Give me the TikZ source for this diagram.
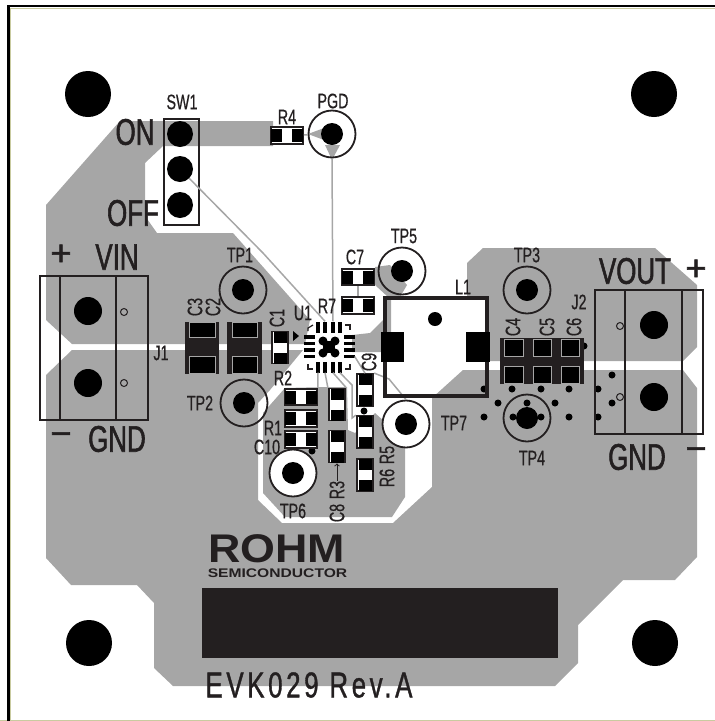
\documentclass[tikz,border=0pt]{standalone}
\usepackage{fontspec}
\newfontfamily\silkfont[FakeStretch=0.68,FakeBold=0.6]{Liberation Sans}
\newfontfamily\bigsilkfont[FakeStretch=0.7,FakeBold=1.5]{Liberation Sans}
\newfontfamily\signfont[FakeBold=1.5]{Liberation Sans}
\newfontfamily\evkfont[FakeStretch=0.72,LetterSpace=10,FakeBold=1]{Liberation Sans}
\newfontfamily\logofont[FakeStretch=1.12]{Liberation Sans Bold}
\newfontfamily\semifont[FakeStretch=1.25]{Liberation Sans Bold}
\definecolor{copper}{HTML}{A6A6A6}
\definecolor{ink}{HTML}{231F20}
\definecolor{edgeline}{HTML}{C9CBA0}
\begin{document}
\begin{tikzpicture}[x=1pt,y=-1pt,
        lbl/.style={text=ink,inner sep=0pt,font=\silkfont\fontsize{21}{21}\selectfont},
        biglbl/.style={lbl,font=\bigsilkfont\fontsize{37}{37}\selectfont},
        signlbl/.style={lbl,font=\signfont\fontsize{36}{36}\selectfont},
        hole/.style={circle,fill=black,inner sep=0pt,minimum size=22pt},
        bighole/.style={hole,minimum size=28pt},
        mount/.style={hole,minimum size=46pt},
        via/.style={hole,minimum size=7pt},
        ring/.style={circle,draw=ink,line width=1.8pt,inner sep=0pt,minimum size=47pt},
        pinmark/.style={circle,draw=ink,line width=1pt,inner sep=0pt,minimum size=7pt},
        frame/.style={draw=ink,line width=2pt},
        pad/.style={fill=black,inner sep=0pt,minimum width=11pt,minimum height=13pt},
        tallpad/.style={pad,minimum width=13pt,minimum height=11pt},
        capbody/.style={fill=ink,inner sep=0pt},
        cappad/.style={fill=black,draw=copper,line width=0.7pt,inner sep=0pt},
        hpin/.style={fill=black,inner sep=0pt,minimum width=11pt,minimum height=3.4pt},
        vpin/.style={fill=black,inner sep=0pt,minimum width=3.4pt,minimum height=11pt},
        trace/.style={draw=copper,line width=1.5pt},
        chiph/.pic={
            \node[draw=ink,line width=1.8pt,fill=white,inner sep=0pt,minimum width=32pt,minimum height=16.5pt] (-body) at (0,0) {};
            \node[pad] (-a) at (-10.5,0) {};
            \node[pad] (-b) at (10.5,0) {};
        },
        chipv/.pic={
            \node[draw=ink,line width=1.8pt,fill=white,inner sep=0pt,minimum width=16.5pt,minimum height=32pt] (-body) at (0,0) {};
            \node[tallpad] (-a) at (0,-10.5) {};
            \node[tallpad] (-b) at (0,10.5) {};
        }]
    \useasboundingbox (0,0) rectangle (715,721);
    % sheet edge
    \draw[edgeline,line width=1.5pt] (10.5,721) -- (10.5,8.5) -- (715,8.5);
    \draw[edgeline,line width=1pt] (0,720.5) -- (715,720.5);
    \draw[black,line width=2.5pt] (8.5,721) -- (8.5,6) -- (715,6);

    % copper areas
    \fill[copper] (120,121) -- (46,205) -- (46,320) -- (72,344) -- (305,344) -- (310,320) -- (233,233) -- (157,233)
        -- (145,216) -- (145,163) -- (163,146) -- (273,146) -- (273,121) -- cycle;
    \fill[copper] (46,375) -- (72,350) -- (303,350) -- (270,390) -- (258,403) -- (258,500) -- (282,523) -- (393,523)
        -- (432,487) -- (432,398) -- (463,370) -- (683,370) -- (697,388) -- (697,557) -- (675,580) -- (623,580)
        -- (578,625) -- (578,663) -- (555,686) -- (173,686) -- (154,668) -- (154,603) -- (137,585) -- (71,585)
        -- (46,558) -- cycle;
    \fill[copper] (467,263) -- (483,248) -- (655,248) -- (697,285) -- (697,347) -- (683,361) -- (487,361)
        -- (487,298) -- (467,298) -- cycle;
    % island under the small parts
    \fill[copper] (285,388) -- (263,413) -- (263,493) -- (285,517) -- (392,517) -- (405,497) -- (405,447)
        -- (385,422) -- (375,413) -- (355,433) -- (348,430) -- (347,387) -- (327,387) -- cycle;
    % switch node trace from U1 to L1 and the TP5 wedge
    \fill[copper] (352,335) -- (370,333) -- (383,320) -- (384,298) -- (391,298) -- (391,352) -- (352,352) -- cycle;
    \fill[copper] (390,265) -- (375,267) -- (375,285) -- (388,297) -- (400,297) -- (407,285) -- cycle;
    \fill[copper] (308,134) -- (332,125) -- (332,143) -- cycle;
    \fill[copper] (325,145) -- (340,145) -- (332,160) -- cycle;

    % mounting holes
    \node[mount] (m1) at (88,94) {};
    \node[mount] (m2) at (654,94) {};
    \node[mount] (m3) at (89,643) {};
    \node[mount] (m4) at (655,643) {};

    % U1
    \node[fill=white,inner sep=0pt,minimum size=28pt] (u1) at (329,347) {};
    \node[vpin] (ut1) at (318,327) {}; \node[vpin] (ut2) at (325,327) {}; \node[vpin] (ut3) at (333,327) {}; \node[vpin] (ut4) at (340,327) {};
    \node[vpin] (ub1) at (318,367) {}; \node[vpin] (ub2) at (325,367) {}; \node[vpin] (ub3) at (333,367) {}; \node[vpin] (ub4) at (340,367) {};
    \node[hpin] (ul1) at (309,337) {}; \node[hpin] (ul2) at (309,343.5) {}; \node[hpin] (ul3) at (309,350) {}; \node[hpin] (ul4) at (309,356.5) {};
    \node[hpin] (ur1) at (349,337) {}; \node[hpin] (ur2) at (349,343.5) {}; \node[hpin] (ur3) at (349,350) {}; \node[hpin] (ur4) at (349,356.5) {};
    \fill[black] (u1) ++(-6,-6) circle (4.5) ++(12,0) circle (4.5) ++(0,12) circle (4.5) ++(-12,0) circle (4.5);
    \fill[black] (u1) ++(-6,-6) rectangle ++(12,12);
    \draw[ink,line width=1.2pt] (308,331) -- (308,328) -- (313,325);
    \draw[ink,line width=1.2pt] (345,325) -- (350,325) -- (350,330);
    \draw[ink,line width=1.2pt] (308,364) -- (308,369) -- (313,369);
    \draw[ink,line width=1.2pt] (345,369) -- (350,369) -- (350,364);
    \fill[black] (293,331) -- (299,336) -- (293,341) -- cycle;

    % switch and PGD
    \node[hole,minimum size=26pt] (sw1a) at (180,134) {};
    \node[hole,minimum size=26pt] (sw1b) at (180,169) {};
    \node[hole,minimum size=26pt] (sw1c) at (180,205) {};
    \node[frame,fill=none,inner sep=0pt,minimum width=35pt,minimum height=106pt] (sw1) at (181,171.5) {};
    \node[ring] (pgdr) at (332,134) {};
    \node[hole] (pgd) at (332,134) {};
    \draw[trace] (pgdr.south) -- (ut3.north);
    \draw[trace] (sw1b) -- (263,253) -- (ut2.north);

    % test points
    \node[ring] (tp1r) at (243,290) {}; \node[hole] (tp1) at (243,290) {};
    \node[ring] (tp2r) at (244,403) {}; \node[hole] (tp2) at (244,403) {};
    \node[ring] (tp3r) at (527,290) {}; \node[hole] (tp3) at (527,290) {};
    \node[ring] (tp4r) at (527,418) {}; \node[hole] (tp4) at (527,418) {};
    \node[ring] (tp5r) at (402,271) {}; \node[hole] (tp5) at (402,271) {};
    \node[ring,fill=white] (tp6r) at (293,473) {}; \node[hole] (tp6) at (293,473) {};
    \node[ring,fill=white] (tp7r) at (406,424) {}; \node[hole] (tp7) at (406,424) {};

    % vias
    \node[via] (v1) at (484,389) {}; \node[via] (v2) at (512,389) {}; \node[via] (v3) at (541,389) {}; \node[via] (v4) at (569,389) {}; \node[via] (v5) at (598,389) {};
    \node[via] (v6) at (498,403) {}; \node[via] (v7) at (527,403) {}; \node[via] (v8) at (555,403) {};
    \node[via] (v9) at (484,417) {}; \node[via] (v10) at (513,417) {}; \node[via] (v11) at (541,417) {}; \node[via] (v12) at (569,417) {}; \node[via] (v13) at (598,417) {};
    \node[via] (v14) at (612,375) {}; \node[via] (v15) at (612,403) {}; \node[via] (v16) at (584,346) {};
    \node[via] (v17) at (364,411) {}; \node[via] (v18) at (312,451) {};

    % chips
    \pic (r4) at (287,135.5) {chiph};
    \pic (c7) at (358,277) {chiph};
    \pic (r7) at (358,305.5) {chiph};
    \pic (r2) at (301,397) {chiph};
    \pic (r1) at (301,418.5) {chiph};
    \pic (c10) at (301,439.5) {chiph};
    \pic (c1) at (280,347.5) {chipv};
    \pic (c8) at (337,404.5) {chipv};
    \pic (r3) at (337,446.5) {chipv};
    \pic (c9) at (365,390) {chipv};
    \pic (r5) at (365,432) {chipv};
    \pic (r6) at (365,475) {chipv};
    \draw[trace] (c7-body) -- (r7-body);
    \draw[trace] (r4-body) -- (pgdr);
    \draw[trace] (ub1.south) -- (r2-body.north east);
    \draw[trace] (ub2.south) -- (c8-body.north west);
    \draw[trace] (ub3.south) -- (c8-body.north east);
    \draw[trace] (ub4.south) -- (352,385) -- (352,418) -- (r5-body.north west);
    \draw[trace] (ur4.east) -- (c9-body.north);
    \draw[trace] (c9-body.north east) -- (389,379) -- (tp7r.north);
    \draw[trace] (c8-body.south) -- (r3-body.north);

    % input caps
    \node[capbody,minimum width=34pt,minimum height=52pt] (c3) at (202,348) {};
    \node[capbody,minimum width=35pt,minimum height=52pt] (c2) at (244.5,348) {};
    \node[cappad,minimum width=26pt,minimum height=15pt] (c3a) at (202,329.5) {};
    \node[cappad,minimum width=26pt,minimum height=17pt] (c3b) at (202,364.5) {};
    \node[cappad,minimum width=25pt,minimum height=15pt] (c2a) at (244.5,329.5) {};
    \node[cappad,minimum width=25pt,minimum height=17pt] (c2b) at (244.5,364.5) {};
    % output caps
    \node[capbody,minimum width=84pt,minimum height=46pt] (c456) at (542,361) {};
    \node[cappad,minimum width=19pt,minimum height=17pt] (c4a) at (513.5,347.5) {};
    \node[cappad,minimum width=18pt,minimum height=17pt] (c5a) at (542,347.5) {};
    \node[cappad,minimum width=18pt,minimum height=17pt] (c6a) at (570,347.5) {};
    \node[cappad,minimum width=19pt,minimum height=17pt] (c4b) at (513.5,374.5) {};
    \node[cappad,minimum width=18pt,minimum height=17pt] (c5b) at (542,374.5) {};
    \node[cappad,minimum width=18pt,minimum height=17pt] (c6b) at (570,374.5) {};

    % L1
    \node[draw=ink,line width=3.5pt,inner sep=0pt,minimum width=102pt,minimum height=98pt] (l1) at (436,347) {};
    \node[fill=black,inner sep=0pt,minimum width=23pt,minimum height=30pt] (l1a) at (392.5,347) {};
    \node[fill=black,inner sep=0pt,minimum width=24pt,minimum height=30pt] (l1b) at (478,347) {};
    \node[via,minimum size=14pt] (l1dot) at (435,319) {};

    % connectors
    \node[draw=ink,line width=2pt,inner sep=0pt,minimum width=108pt,minimum height=144pt] (j1) at (94,348) {};
    \draw[ink,line width=2pt] (j1.north west) ++(21,0) coordinate (j1n) -- (j1.south west -| j1n);
    \draw[ink,line width=2pt] (j1.north west) ++(77,0) coordinate (j1m) -- (j1.south west -| j1m);
    \node[bighole] (j1a) at (88,311) {};
    \node[bighole] (j1b) at (88,383) {};
    \node[pinmark] (j1c) at (124,312) {};
    \node[pinmark] (j1d) at (124,383) {};
    \node[draw=ink,line width=2pt,inner sep=0pt,minimum width=108pt,minimum height=144pt] (j2) at (649,362) {};
    \draw[ink,line width=2pt] (j2.north west) ++(31,0) coordinate (j2n) -- (j2.south west -| j2n);
    \draw[ink,line width=2pt] (j2.north west) ++(88,0) coordinate (j2m) -- (j2.south west -| j2m);
    \node[bighole] (j2a) at (654,325) {};
    \node[bighole] (j2b) at (654,397) {};
    \node[pinmark] (j2c) at (620,326) {};
    \node[pinmark] (j2d) at (620,397) {};

    % logo and label plate
    \node[fill=ink,inner sep=0pt,minimum width=356pt,minimum height=70pt] (plate) at (380,623) {};
    \node[inner sep=0pt,text=ink,font=\logofont\fontsize{40}{40}\selectfont] (rohm) at (276.5,548.5) {ROHM};
    \node[inner sep=0pt,text=ink,font=\semifont\fontsize{12.5}{12.5}\selectfont] (semi) at (277.5,573) {SEMICONDUCTOR};
    \node[inner sep=0pt,text=ink,font=\evkfont\fontsize{36}{36}\selectfont] (evk) at (309,685) {EVK029 Rev.A};

    % silk text
    \node[lbl] (sw1t) at (182,102) {SW1};
    \node[lbl] (pgdt) at (333,101) {PGD};
    \node[lbl] (r4t) at (287,117) {R4};
    \node[biglbl] (ont) at (135,132) {ON};
    \node[biglbl] (offt) at (133,213) {OFF};
    \node[signlbl] (plus1) at (61,255) {+};
    \node[biglbl] (vint) at (117,257) {VIN};
    \node[signlbl] (minus1) at (61,439) {−};
    \node[biglbl] (gnd1) at (117,439) {GND};
    \node[biglbl] (voutt) at (635,271) {VOUT};
    \node[signlbl] (plus2) at (696,270) {+};
    \node[biglbl] (gnd2) at (637,457) {GND};
    \node[signlbl] (minus2) at (696,454) {−};
    \node[lbl] (j1t) at (161,353) {J1};
    \node[lbl] (j2t) at (579,302) {J2};
    \node[lbl] (l1t) at (463,287) {L1};
    \node[lbl] (tp1t) at (240,255) {TP1};
    \node[lbl] (tp2t) at (200,403) {TP2};
    \node[lbl] (tp3t) at (527,255) {TP3};
    \node[lbl] (tp4t) at (532,458) {TP4};
    \node[lbl] (tp5t) at (404,236) {TP5};
    \node[lbl] (tp6t) at (293,511) {TP6};
    \node[lbl] (tp7t) at (454,423) {TP7};
    \node[lbl] (c7t) at (355,257) {C7};
    \node[lbl] (r7t) at (327,306) {R7};
    \node[lbl] (u1t) at (303,313) {U1};
    \node[lbl] (r2t) at (283,378) {R2};
    \node[lbl] (r1t) at (273,428) {R1};
    \node[lbl] (c10t) at (267,447) {C10};
    \node[lbl,rotate=90] (c3t) at (195,307) {C3};
    \node[lbl,rotate=90] (c2t) at (213,307) {C2};
    \node[lbl,rotate=90] (c1t) at (277,318) {C1};
    \node[lbl,rotate=90] (c4t) at (513,327) {C4};
    \node[lbl,rotate=90] (c5t) at (547,327) {C5};
    \node[lbl,rotate=90] (c6t) at (574,327) {C6};
    \node[lbl,rotate=90] (c9t) at (369,362) {C9};
    \node[lbl,rotate=90] (c8t) at (337,513) {C8};
    \node[lbl,rotate=90] (r3t) at (337,490) {R3};
    \node[lbl,rotate=90] (r5t) at (387,455) {R5};
    \node[lbl,rotate=90] (r6t) at (387,478) {R6};
    \draw[ink,line width=1pt,->] (r3t.east) -- (r3-body.south);
\end{tikzpicture}
\end{document}
